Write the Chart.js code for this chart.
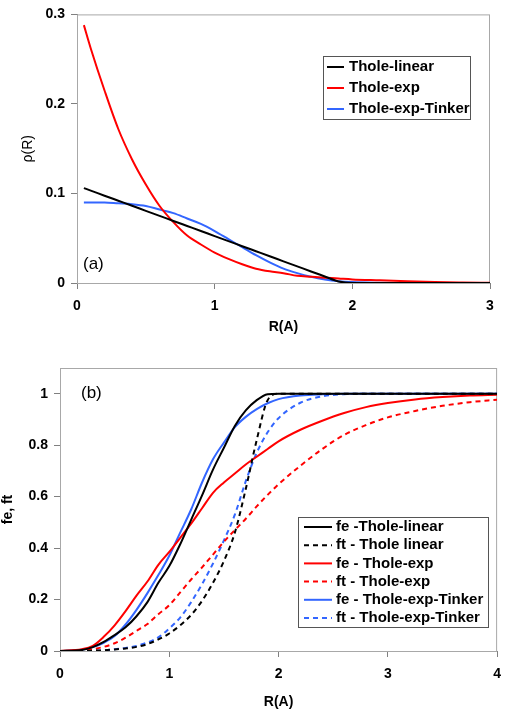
<!DOCTYPE html>
<html>
<head>
<meta charset="utf-8">
<script src="https://cdn.jsdelivr.net/npm/chart.js@4"></script>
<style>
    body { margin: 0; background: #fff; }
    .panel { position: absolute; left: 0; width: 510px; }
    #wrapA { top: 0; height: 340px; }
    #wrapB { top: 335px; height: 380px; }
</style>
</head>
<body>
<div class="panel" id="wrapA"><canvas id="chartA" width="510" height="340"></canvas></div>
<div class="panel" id="wrapB"><canvas id="chartB" width="510" height="380"></canvas></div>
<script>
// (a) charge density profiles, rho(R)
const rA = [0.05, 0.1, 0.2, 0.3, 0.4, 0.5, 0.6, 0.7, 0.8, 0.9, 1.0, 1.1, 1.2, 1.3, 1.4, 1.5, 1.6, 1.7, 1.8, 1.9, 2.0, 2.2, 2.4, 2.6, 2.8, 3.0];
const rhoLinear = [0.106, 0.1032, 0.0975, 0.0919, 0.0863, 0.0806, 0.075, 0.0693, 0.0637, 0.0581, 0.0524, 0.0468, 0.0411, 0.0355, 0.0299, 0.0242, 0.0186, 0.0129, 0.0073, 0.0017, 0, 0, 0, 0, 0, 0];
const rhoExp = [0.288, 0.262, 0.215, 0.172, 0.138, 0.11, 0.086, 0.068, 0.053, 0.043, 0.034, 0.027, 0.021, 0.016, 0.013, 0.011, 0.008, 0.007, 0.006, 0.005, 0.004, 0.003, 0.002, 0.001, 0.0005, 0.0002];
const rhoTinker = [0.090, 0.090, 0.090, 0.089, 0.088, 0.086, 0.082, 0.078, 0.072, 0.066, 0.058, 0.049, 0.040, 0.031, 0.023, 0.016, 0.011, 0.007, 0.004, 0.002, 0.001, 0.0003, 0, 0, 0, 0];
const labelsA = ["Thole-linear", "Thole-exp", "Thole-exp-Tinker"];
const xTicksA = [0, 1, 2, 3];
const yTicksA = [0, 0.1, 0.2, 0.3];

// (b) screening functions fe, ft
const rB = [0, 0.2, 0.3, 0.4, 0.5, 0.6, 0.7, 0.8, 0.9, 1.0, 1.1, 1.2, 1.3, 1.4, 1.5, 1.6, 1.7, 1.8, 1.9, 2.0, 2.2, 2.4, 2.6, 2.8, 3.0, 3.25, 3.5, 3.75, 4.0];
const feLinear = [0, 0.004, 0.015, 0.035, 0.062, 0.092, 0.135, 0.19, 0.265, 0.33, 0.415, 0.51, 0.605, 0.705, 0.79, 0.875, 0.935, 0.975, 0.998, 1, 1, 1, 1, 1, 1, 1, 1, 1, 1];
const ftLinear = [0, 0, 0.001, 0.003, 0.006, 0.01, 0.016, 0.027, 0.045, 0.068, 0.1, 0.14, 0.195, 0.265, 0.35, 0.46, 0.63, 0.82, 0.975, 1, 1, 1, 1, 1, 1, 1, 1, 1, 1];
const feExp = [0, 0.007, 0.02, 0.055, 0.1, 0.155, 0.215, 0.27, 0.335, 0.385, 0.44, 0.495, 0.555, 0.615, 0.655, 0.69, 0.725, 0.755, 0.785, 0.815, 0.86, 0.895, 0.925, 0.948, 0.964, 0.978, 0.987, 0.993, 0.996];
const ftExp = [0, 0.002, 0.007, 0.016, 0.03, 0.052, 0.078, 0.105, 0.143, 0.178, 0.228, 0.278, 0.325, 0.375, 0.425, 0.47, 0.514, 0.562, 0.607, 0.648, 0.72, 0.785, 0.84, 0.878, 0.908, 0.933, 0.953, 0.967, 0.977];
const feTinker = [0, 0.005, 0.015, 0.032, 0.058, 0.103, 0.16, 0.225, 0.295, 0.37, 0.46, 0.55, 0.655, 0.745, 0.81, 0.87, 0.91, 0.94, 0.963, 0.979, 0.993, 0.998, 1, 1, 1, 1, 1, 1, 1];
const ftTinker = [0, 0, 0.001, 0.003, 0.007, 0.012, 0.02, 0.033, 0.053, 0.088, 0.13, 0.19, 0.26, 0.34, 0.43, 0.53, 0.66, 0.77, 0.85, 0.905, 0.965, 0.99, 0.998, 1, 1, 1, 1, 1, 1];
const labelsB = ["fe -Thole-linear", "ft - Thole linear", "fe - Thole-exp", "ft - Thole-exp", "fe - Thole-exp-Tinker", "ft - Thole-exp-Tinker"];
const xTicksB = [0, 1, 2, 3, 4];
const yTicksB = [0, 0.2, 0.4, 0.6, 0.8, 1];

const FONT = "'Liberation Sans', Arial, sans-serif";
const BLACK = "#000000";
const RED = "#ff0000";
const BLUE = "#3366ff";
const DASH = [5, 4];

Chart.defaults.font.family = FONT;
Chart.defaults.color = "#000";

// Turn two arrays into {x, y} points
function toPoints(xs, ys) {
    return xs.map((x, i) => ({ x: x, y: ys[i] }));
}

function lineSet(label, xs, ys, color, dashed) {
    return {
        label: label,
        data: toPoints(xs, ys),
        borderColor: color,
        backgroundColor: color,
        borderWidth: 2,
        borderDash: dashed ? DASH : [],
        pointRadius: 0,
        fill: false,
        cubicInterpolationMode: "monotone",
    };
}

// Gray frame around the plot area
const plotFrame = {
    id: "plotFrame",
    beforeDatasetsDraw(chart) {
        const { ctx, chartArea: a } = chart;
        ctx.save();
        ctx.strokeStyle = "#a8a8a8";
        ctx.lineWidth = 1;
        ctx.strokeRect(a.left + 0.5, a.top + 0.5, a.right - a.left - 1, a.bottom - a.top);
        ctx.restore();
    },
};

// Boxed legend placed inside the plot
const boxLegend = {
    id: "boxLegend",
    afterDraw(chart, args, opts) {
        const ctx = chart.ctx;
        ctx.save();
        ctx.fillStyle = "#fff";
        ctx.fillRect(opts.left, opts.top, opts.width, opts.height);
        ctx.strokeStyle = "#555";
        ctx.lineWidth = 1;
        ctx.strokeRect(opts.left + 0.5, opts.top + 0.5, opts.width, opts.height);
        ctx.font = "bold 15px " + FONT;
        ctx.textBaseline = "middle";
        chart.data.datasets.forEach((ds, i) => {
            const y = opts.firstRow + i * opts.rowHeight;
            ctx.beginPath();
            ctx.setLineDash(ds.borderDash || []);
            ctx.strokeStyle = ds.borderColor;
            ctx.lineWidth = 2;
            ctx.moveTo(opts.lineStart, y);
            ctx.lineTo(opts.lineEnd, y);
            ctx.stroke();
            ctx.setLineDash([]);
            ctx.fillStyle = "#000";
            ctx.fillText(ds.label, opts.textX, y);
        });
        ctx.restore();
    },
};

// Panel tag, (a) / (b)
const panelTag = {
    id: "panelTag",
    afterDraw(chart, args, opts) {
        const ctx = chart.ctx;
        ctx.save();
        ctx.font = "17px " + FONT;
        ctx.fillStyle = "#000";
        ctx.textBaseline = "middle";
        ctx.fillText(opts.text, opts.x, opts.y);
        ctx.restore();
    },
};

function numLabel(v) {
    return String(+Number(v).toFixed(2));
}

function axis(min, max, tickValues, title, titleBold, size, isX) {
    return {
        type: "linear",
        min: min,
        max: max,
        afterBuildTicks: (s) => { s.ticks = tickValues.map((v) => ({ value: v })); },
        afterFit: (s) => { if (isX) s.height = size; else s.width = size; },
        ticks: {
            font: { size: 14, weight: "bold" },
            color: "#000",
            padding: isX ? 9 : 6,
            maxRotation: 0,
            autoSkip: false,
            callback: numLabel,
        },
        grid: { drawOnChartArea: false, drawTicks: true, tickLength: 6, color: "#808080" },
        border: { display: true, color: "#808080", width: 1 },
        title: {
            display: true,
            text: title,
            color: "#000",
            font: { size: 14, weight: titleBold ? "bold" : "normal" },
            padding: { top: 0, bottom: 4 },
        },
    };
}

// Panel (a)
new Chart(document.getElementById("chartA").getContext("2d"), {
    type: "line",
    data: {
        datasets: [
            lineSet(labelsA[0], rA, rhoLinear, BLACK, false),
            lineSet(labelsA[1], rA, rhoExp, RED, false),
            lineSet(labelsA[2], rA, rhoTinker, BLUE, false),
        ],
    },
    options: {
        responsive: false,
        animation: false,
        layout: { padding: { left: 20, right: 20, top: 12, bottom: 0 } },
        scales: {
            x: axis(0, 3, xTicksA, "R(A)", true, 57, true),
            y: axis(0, 0.3, yTicksA, "\u03c1(R)", false, 57, false),
        },
        plugins: {
            legend: { display: false },
            tooltip: { enabled: false },
            boxLegend: { left: 323, top: 56, width: 147, height: 63, firstRow: 67, rowHeight: 21, lineStart: 327, lineEnd: 344, textX: 349 },
            panelTag: { text: "(a)", x: 83, y: 264 },
        },
    },
    plugins: [plotFrame, boxLegend, panelTag],
});

// Panel (b)
new Chart(document.getElementById("chartB").getContext("2d"), {
    type: "line",
    data: {
        datasets: [
            lineSet(labelsB[0], rB, feLinear, BLACK, false),
            lineSet(labelsB[1], rB, ftLinear, BLACK, true),
            lineSet(labelsB[2], rB, feExp, RED, false),
            lineSet(labelsB[3], rB, ftExp, RED, true),
            lineSet(labelsB[4], rB, feTinker, BLUE, false),
            lineSet(labelsB[5], rB, ftTinker, BLUE, true),
        ],
    },
    options: {
        responsive: false,
        animation: false,
        layout: { padding: { left: 0, right: 10, top: 33, bottom: 0 } },
        scales: {
            x: axis(0, 4, xTicksB, "R(A)", true, 64, true),
            y: axis(0, 1.1, yTicksB, "fe, ft", true, 60, false),
        },
        plugins: {
            legend: { display: false },
            tooltip: { enabled: false },
            boxLegend: { left: 298, top: 182, width: 190, height: 110, firstRow: 192, rowHeight: 18.2, lineStart: 304, lineEnd: 332, textX: 336 },
            panelTag: { text: "(b)", x: 81, y: 58 },
        },
    },
    plugins: [plotFrame, boxLegend, panelTag],
});
</script>
</body>
</html>
